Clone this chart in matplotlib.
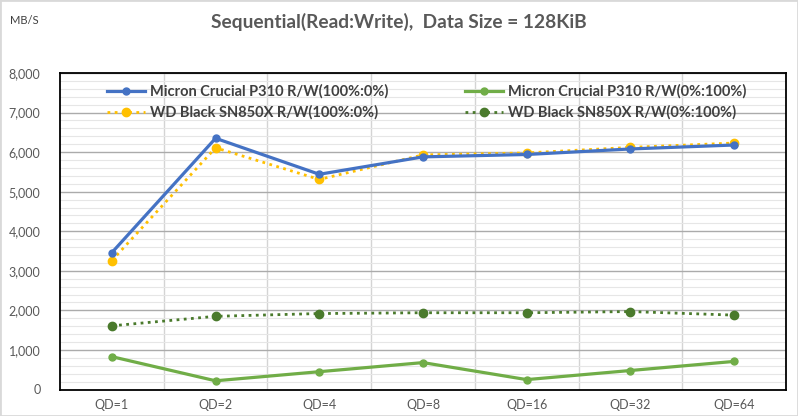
import numpy as np
import matplotlib.pyplot as plt
from matplotlib.ticker import MultipleLocator, FuncFormatter
from matplotlib.patches import Rectangle

plt.rcParams['font.family'] = ['Lato', 'DejaVu Sans']

categories = ['QD=1', 'QD=2', 'QD=4', 'QD=8', 'QD=16', 'QD=32', 'QD=64']
p310_read = [3460, 6350, 5440, 5880, 5940, 6080, 6180]
p310_write = [830, 220, 450, 680, 250, 480, 710]
sn850x_read = [3260, 6110, 5310, 5930, 5980, 6120, 6230]
sn850x_write = [1610, 1850, 1920, 1940, 1940, 1970, 1880]

label_p310_r = 'Micron Crucial P310 R/W(100%:0%)'
label_p310_w = 'Micron Crucial P310 R/W(0%:100%)'
label_wd_r = 'WD Black SN850X R/W(100%:0%)'
label_wd_w = 'WD Black SN850X R/W(0%:100%)'

fig = plt.figure(figsize=(7.98, 4.16), dpi=100)
ax = fig.add_axes([60 / 798, 1 - 389.5 / 416, 726 / 798, 316.5 / 416])

x = np.arange(len(categories))

l1, = ax.plot(x, p310_read, color='#4472C4', lw=2.3, marker='o', ms=5, label=label_p310_r, zorder=4)
l2, = ax.plot(x, sn850x_read, color='#FFC000', lw=2.0, ls=(0, (1, 1.6)), marker='o', ms=6,
              label=label_wd_r, zorder=3)
l3, = ax.plot(x, p310_write, color='#70AD47', lw=2.3, marker='o', ms=5, label=label_p310_w, zorder=4)
l4, = ax.plot(x, sn850x_write, color='#4A7A2C', lw=2.0, ls=(0, (1, 1.6)), marker='o', ms=6,
              label=label_wd_w, zorder=3)

ax.set_xlim(-0.5, len(categories) - 0.5)
ax.set_ylim(0, 8000)
ax.set_xticks(x)
ax.set_xticklabels(categories)
ax.set_xticks(np.arange(len(categories) - 1) + 0.5, minor=True)
ax.yaxis.set_major_locator(MultipleLocator(1000))
ax.yaxis.set_minor_locator(MultipleLocator(200))
ax.yaxis.set_major_formatter(FuncFormatter(lambda v, p: f'{int(v):,}'))

ax.grid(axis='y', which='major', color='#ABABAB', lw=1.0, zorder=1)
ax.grid(axis='y', which='minor', color='#E6E6E6', lw=0.8, zorder=0)
ax.grid(axis='x', which='minor', color='#D4D4D4', lw=1.0, zorder=0)
ax.grid(axis='x', which='major', visible=False)
ax.set_axisbelow(True)

ax.tick_params(axis='both', which='both', length=0, labelsize=9, colors='#595959')
ax.tick_params(axis='x', pad=7)
ax.tick_params(axis='y', pad=14)
for s in ax.spines.values():
    s.set_color('black')
    s.set_linewidth(1.3)

ax.legend(handles=[l1, l2, l3, l4], ncol=2, frameon=False, loc='upper center',
          bbox_to_anchor=(0.505, 1.005), columnspacing=5.3,
          handlelength=2.6, handletextpad=0.3, labelspacing=0.45,
          prop={'weight': 'bold', 'size': 10.5})
for t in ax.get_legend().get_texts():
    t.set_color('#404040')

fig.text(0.5, 1 - 22 / 416, 'Sequential(Read:Write),  Data Size = 128KiB', ha='center', va='center',
         fontsize=13.8, fontweight='bold', color='#595959')
fig.text(10 / 798, 1 - 21 / 416, 'MB/S', ha='left', va='center', fontsize=8, color='#404040')

fig.patches.append(Rectangle((0, 0), 1, 1, transform=fig.transFigure, fill=False,
                             edgecolor='#D9D9D9', lw=2))

fig.savefig('out.png', dpi=100)
